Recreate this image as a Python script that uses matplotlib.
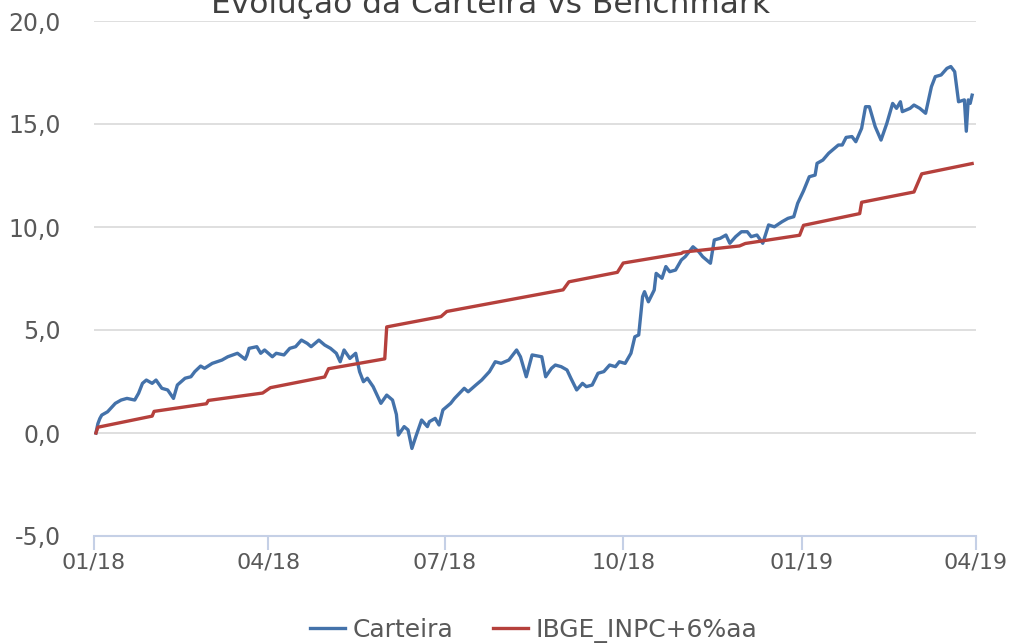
import matplotlib
matplotlib.use("Agg")
import matplotlib.pyplot as plt
import matplotlib.dates as mdates
import pandas as pd

# Carteira (% acumulado)
cart_dates = [
    "2018-01-02", "2018-01-03", "2018-01-04", "2018-01-05", "2018-01-08", "2018-01-12",
    "2018-01-15", "2018-01-18", "2018-01-22", "2018-01-24", "2018-01-26", "2018-01-28",
    "2018-01-31", "2018-02-02", "2018-02-05", "2018-02-08", "2018-02-11", "2018-02-13",
    "2018-02-17", "2018-02-20", "2018-02-22", "2018-02-25", "2018-02-27", "2018-03-03",
    "2018-03-08", "2018-03-11", "2018-03-16", "2018-03-20", "2018-03-21", "2018-03-22",
    "2018-03-26", "2018-03-28", "2018-03-30", "2018-04-03", "2018-04-05", "2018-04-09",
    "2018-04-12", "2018-04-15", "2018-04-18", "2018-04-21", "2018-04-23", "2018-04-27",
    "2018-04-30", "2018-05-03", "2018-05-06", "2018-05-08", "2018-05-10", "2018-05-13",
    "2018-05-16", "2018-05-18", "2018-05-20", "2018-05-22", "2018-05-25", "2018-05-29",
    "2018-06-01", "2018-06-04", "2018-06-06", "2018-06-07", "2018-06-10", "2018-06-12",
    "2018-06-14", "2018-06-16", "2018-06-19", "2018-06-22", "2018-06-23", "2018-06-26",
    "2018-06-28", "2018-06-30", "2018-07-04", "2018-07-06", "2018-07-11", "2018-07-13",
    "2018-07-17", "2018-07-20", "2018-07-24", "2018-07-27", "2018-07-30", "2018-08-03",
    "2018-08-07", "2018-08-09", "2018-08-12", "2018-08-15", "2018-08-20", "2018-08-22",
    "2018-08-25", "2018-08-27", "2018-08-30", "2018-09-02", "2018-09-04", "2018-09-07",
    "2018-09-10", "2018-09-12", "2018-09-15", "2018-09-18", "2018-09-21", "2018-09-24",
    "2018-09-27", "2018-09-29", "2018-10-02", "2018-10-05", "2018-10-07", "2018-10-09",
    "2018-10-11", "2018-10-12", "2018-10-14", "2018-10-17", "2018-10-18", "2018-10-21",
    "2018-10-23", "2018-10-25", "2018-10-28", "2018-10-31", "2018-11-02", "2018-11-06",
    "2018-11-09", "2018-11-11", "2018-11-15", "2018-11-17", "2018-11-20", "2018-11-23",
    "2018-11-25", "2018-11-28", "2018-12-01", "2018-12-04", "2018-12-06", "2018-12-09",
    "2018-12-12", "2018-12-15", "2018-12-18", "2018-12-22", "2018-12-25", "2018-12-28",
    "2018-12-30", "2019-01-02", "2019-01-05", "2019-01-08", "2019-01-09", "2019-01-12",
    "2019-01-15", "2019-01-17", "2019-01-20", "2019-01-22", "2019-01-24", "2019-01-27",
    "2019-01-29", "2019-02-01", "2019-02-03", "2019-02-05", "2019-02-08", "2019-02-11",
    "2019-02-14", "2019-02-17", "2019-02-19", "2019-02-21", "2019-02-22", "2019-02-26",
    "2019-02-28", "2019-03-03", "2019-03-06", "2019-03-09", "2019-03-11", "2019-03-14",
    "2019-03-17", "2019-03-19", "2019-03-21", "2019-03-23", "2019-03-26", "2019-03-27",
    "2019-03-28", "2019-03-29", "2019-03-30",
]
cart_vals = [
    0.0, 0.45, 0.7, 0.87, 1.03, 1.44,
    1.6, 1.68, 1.6, 1.93, 2.41, 2.57,
    2.41, 2.57, 2.17, 2.09, 1.68, 2.33,
    2.66, 2.73, 2.98, 3.25, 3.14, 3.38,
    3.54, 3.7, 3.87, 3.58, 3.79, 4.11,
    4.19, 3.87, 4.03, 3.7, 3.87, 3.79,
    4.11, 4.19, 4.51, 4.35, 4.19, 4.51,
    4.27, 4.11, 3.87, 3.46, 4.03, 3.62,
    3.87, 2.98, 2.49, 2.66, 2.25, 1.44,
    1.84, 1.6, 0.9, -0.1, 0.31, 0.15,
    -0.75, -0.18, 0.63, 0.31, 0.55, 0.71,
    0.39, 1.12, 1.44, 1.68, 2.17, 2.0,
    2.33, 2.57, 2.98, 3.46, 3.38, 3.54,
    4.03, 3.7, 2.73, 3.79, 3.7, 2.73,
    3.14, 3.3, 3.22, 3.06, 2.66, 2.09,
    2.41, 2.25, 2.33, 2.9, 2.98, 3.3,
    3.22, 3.46, 3.38, 3.87, 4.67, 4.76,
    6.62, 6.86, 6.37, 6.94, 7.75, 7.51,
    8.08, 7.83, 7.91, 8.4, 8.56, 9.04,
    8.8, 8.56, 8.24, 9.37, 9.45, 9.61,
    9.21, 9.53, 9.77, 9.77, 9.53, 9.61,
    9.21, 10.1, 10.01, 10.26, 10.42, 10.5,
    11.15, 11.75, 12.44, 12.52, 13.09, 13.25,
    13.58, 13.74, 13.98, 13.98, 14.35, 14.39,
    14.14, 14.79, 15.84, 15.84, 14.87, 14.22,
    15.03, 16.0, 15.76, 16.08, 15.6, 15.76,
    15.92, 15.76, 15.52, 16.81, 17.3, 17.38,
    17.7, 17.79, 17.54, 16.08, 16.17, 14.65,
    16.17, 16.0, 16.4,
]

# Benchmark IBGE_INPC+6%aa
bench_dates = [
    "2018-01-02", "2018-01-03", "2018-01-31", "2018-02-01", "2018-02-28", "2018-03-01",
    "2018-03-29", "2018-04-02", "2018-04-30", "2018-05-02", "2018-05-31", "2018-06-01",
    "2018-06-29", "2018-07-02", "2018-08-31", "2018-09-03", "2018-09-28", "2018-10-01",
    "2018-10-31", "2018-11-01", "2018-11-30", "2018-12-03", "2018-12-31", "2019-01-02",
    "2019-01-31", "2019-02-01", "2019-02-28", "2019-03-04", "2019-03-30",
]
bench_vals = [
    0.0, 0.28, 0.82, 1.05, 1.42, 1.58,
    1.94, 2.2, 2.72, 3.12, 3.6, 5.15,
    5.65, 5.9, 6.95, 7.34, 7.8, 8.25,
    8.72, 8.78, 9.08, 9.2, 9.6, 10.08,
    10.65, 11.2, 11.7, 12.58, 13.08,
]

xticks = ["2018-01-01", "2018-04-01", "2018-07-01", "2018-10-01", "2019-01-01", "2019-04-01"]
yticks = [-5, 0, 5, 10, 15, 20]
ytick_labels = ["-5,0", "0,0", "5,0", "10,0", "15,0", "20,0"]

fig = plt.figure(figsize=(10.17, 6.43), dpi=100)
ax = fig.add_axes([94 / 1017, 1 - 536 / 643, (976 - 94) / 1017, (536 - 21) / 643])

ax.plot(pd.to_datetime(cart_dates), cart_vals, color="#4472aa", lw=2.4, label="Carteira",
        solid_joinstyle="round")
ax.plot(pd.to_datetime(bench_dates), bench_vals, color="#b5403c", lw=2.4, label="IBGE_INPC+6%aa")

ax.set_xlim(pd.Timestamp(xticks[0]), pd.Timestamp(xticks[-1]))
ax.set_ylim(-5, 20)
ax.set_yticks(yticks)
ax.set_yticklabels(ytick_labels)
ax.set_xticks(pd.to_datetime(xticks))
ax.xaxis.set_major_formatter(mdates.DateFormatter("%m/%y"))

ax.grid(axis="y", color="#d9d9d9", lw=1.2)
ax.set_axisbelow(True)
for s in ["top", "right", "left"]:
    ax.spines[s].set_visible(False)
ax.spines["bottom"].set_color("#c5d0e6")
ax.spines["bottom"].set_linewidth(1.5)
ax.tick_params(axis="y", length=0, pad=24, labelsize=17, labelcolor="#595959")
ax.tick_params(axis="x", length=10, width=1.5, color="#c5d0e6", pad=2,
               labelsize=16, labelcolor="#595959")

# titulo cortado no topo, como no original
fig.text(491 / 1017, 1 - 13 / 643, "Evolução da Carteira vs Benchmark", ha="center",
         va="baseline", fontsize=22.5, color="#404040")

fig.legend(loc="center", bbox_to_anchor=(0.525, 0.02), ncol=2, frameon=False,
           fontsize=18, labelcolor="#595959", handlelength=1.4, columnspacing=1.6,
           handletextpad=0.3)

fig.savefig("out.png", dpi=100)
